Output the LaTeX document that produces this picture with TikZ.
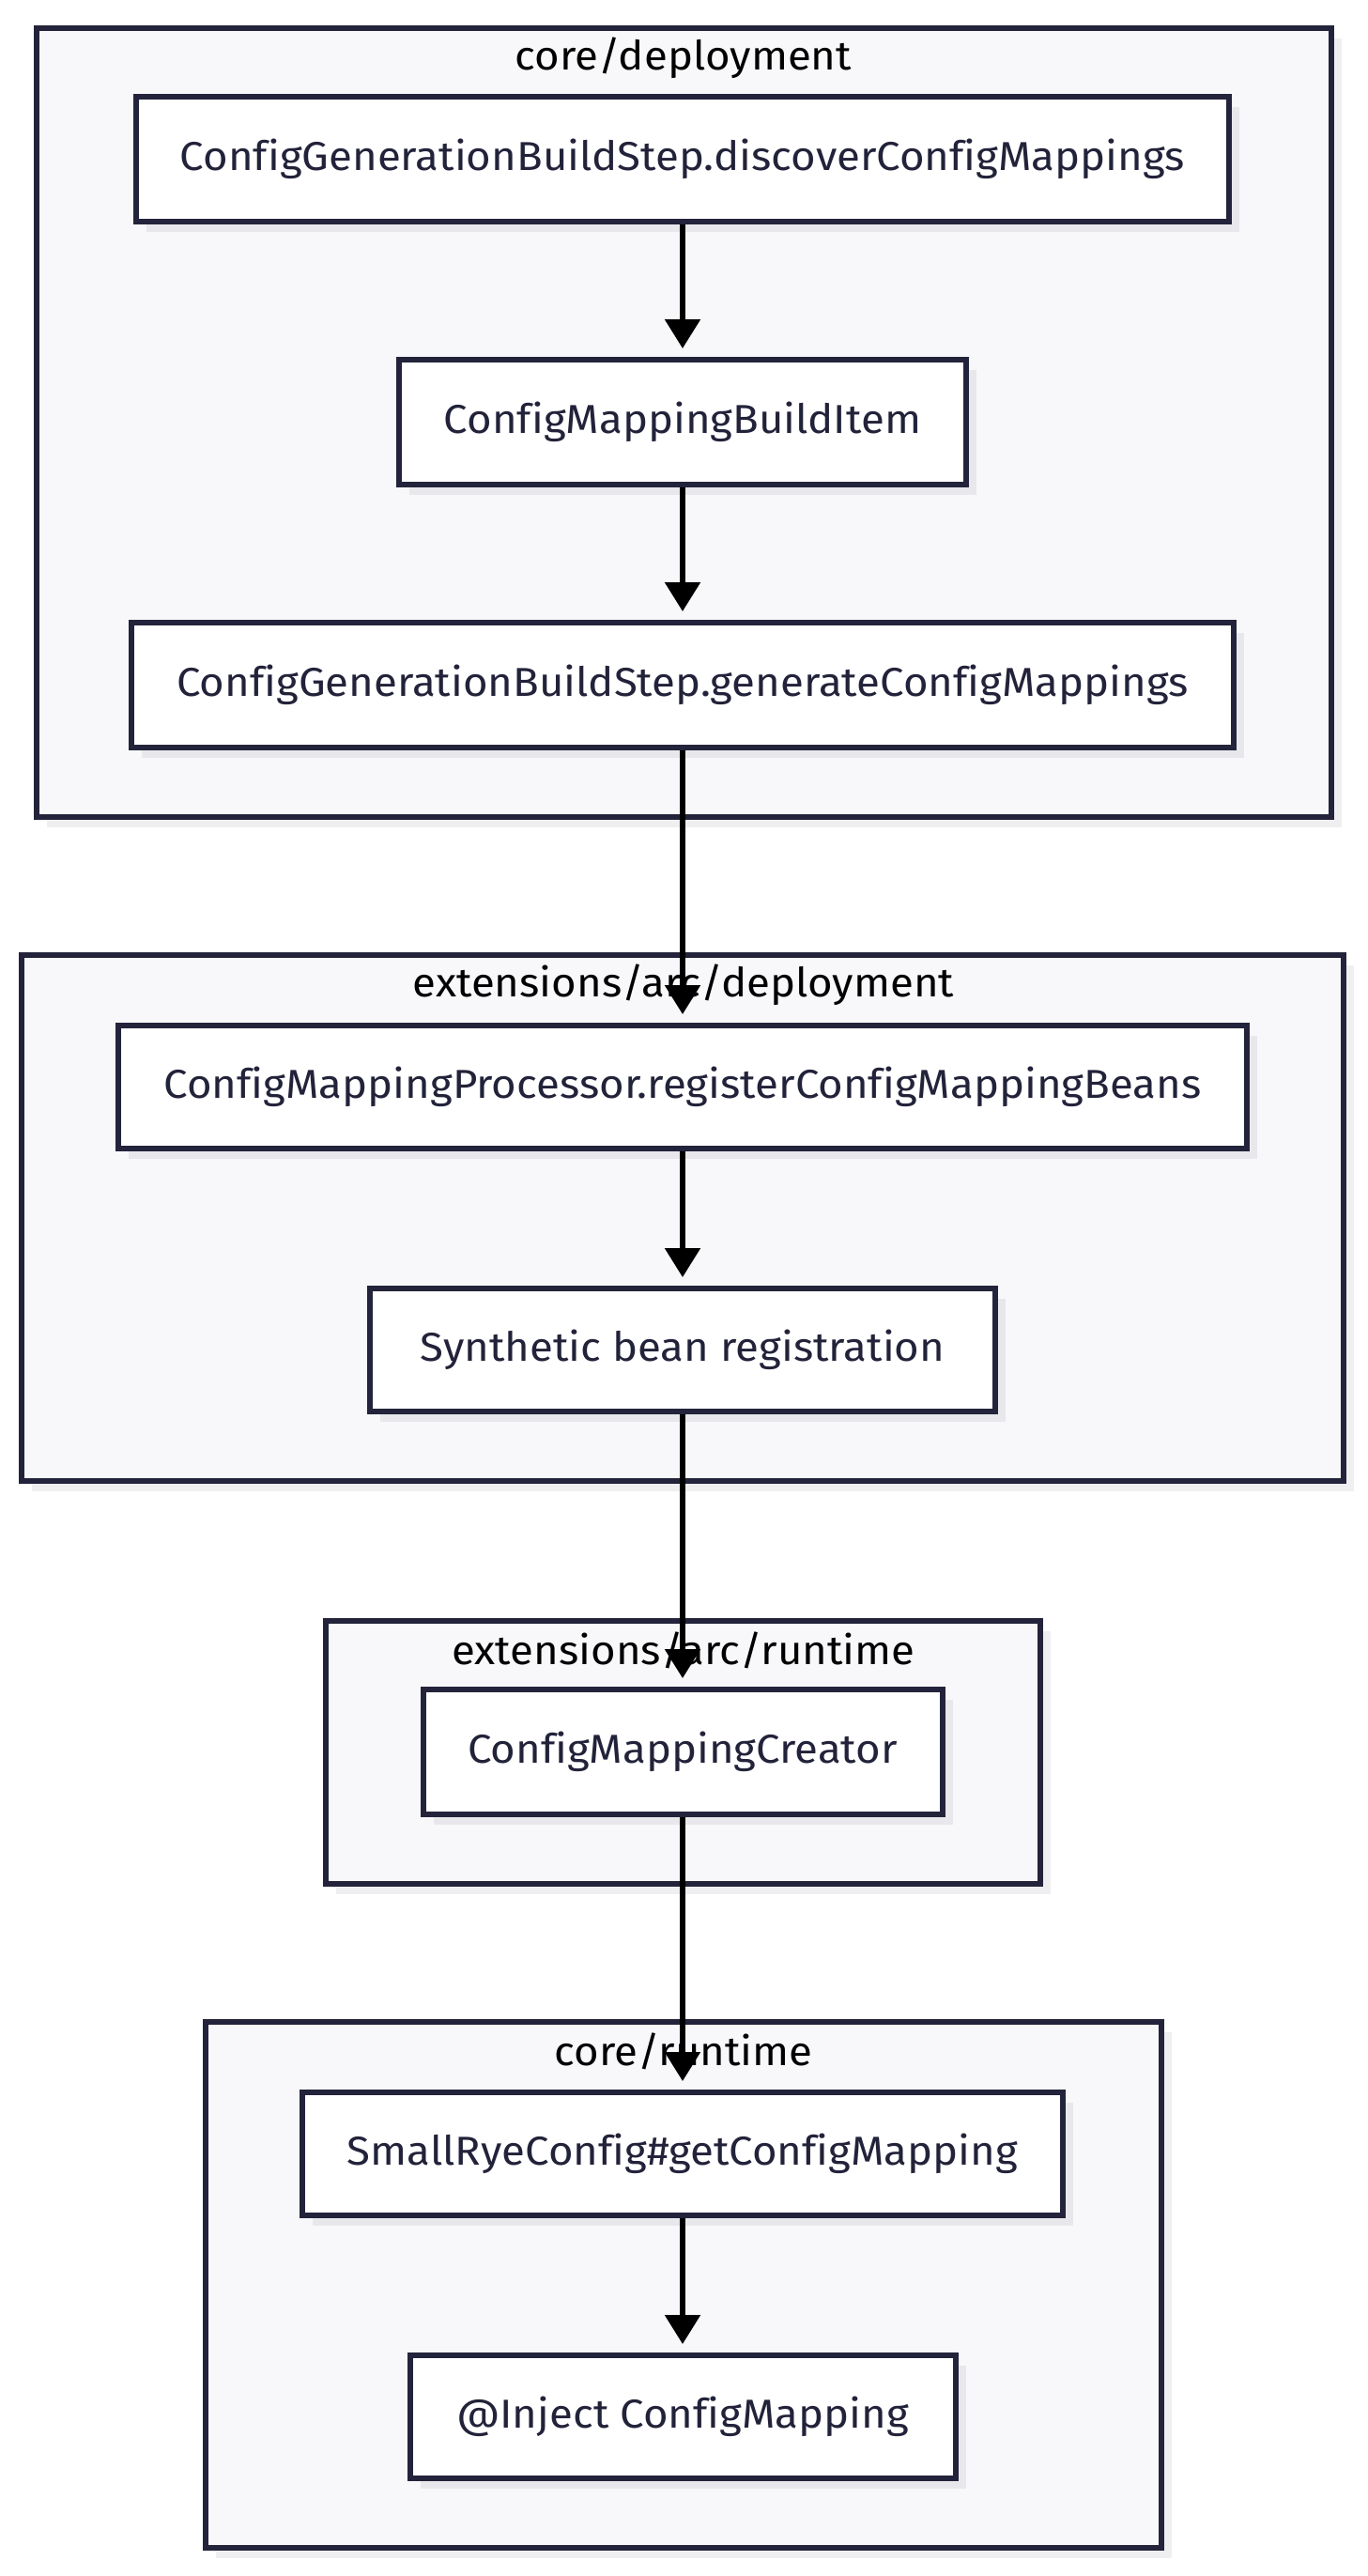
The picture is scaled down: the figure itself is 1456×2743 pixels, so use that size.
\documentclass[tikz,border=0pt]{standalone}
\usepackage{fontspec}
\setmainfont{Fira Sans}[Ligatures=NoCommon, FakeStretch=1.06]
\usetikzlibrary{arrows.meta,shadows}
\definecolor{bordc}{HTML}{23233B}
\definecolor{txtc}{HTML}{22223A}
\definecolor{clfill}{HTML}{F8F8FB}
\definecolor{shadc}{HTML}{E8E8EC}
\definecolor{clshad}{HTML}{EFEFF2}
\tikzset{
  boxnode/.style={draw=bordc, line width=6pt, fill=white, text=txtc,
    font=\fontsize{43}{51}\selectfont, inner sep=0pt,
    general shadow={fill=shadc, shadow xshift=11pt, shadow yshift=-11pt}},
  clusterbox/.style={draw=bordc, line width=6pt, fill=clfill, inner sep=0pt,
    general shadow={fill=clshad, shadow xshift=11pt, shadow yshift=-11pt}},
  cltitle/.style={text=black, font=\fontsize{43}{51}\selectfont, inner sep=0pt},
  flow/.style={draw=black, line width=5.5pt, -{Triangle[length=31pt,width=37pt]}, shorten >=9pt}
}
\begin{document}
\begin{tikzpicture}[x=1pt,y=-1pt]
\useasboundingbox (0,0) rectangle (1456,2743);
% clusters
\node[clusterbox, minimum width=1379pt, minimum height=840pt] (c1) at (728,450) {};
\node[clusterbox, minimum width=1408pt, minimum height=560pt] (c2) at (727,1297) {};
\node[clusterbox, minimum width=761pt, minimum height=280pt] (c3) at (727,1865.5) {};
\node[clusterbox, minimum width=1018pt, minimum height=560pt] (c4) at (728,2432.5) {};
\node[cltitle] (t1) at (728,62) {core/deployment};
\node[cltitle] (t2) at (728,1049) {extensions/arc/deployment};
\node[cltitle] (t3) at (728,1757.5) {extensions/arc/runtime};
\node[cltitle] (t4) at (728,2184.5) {core/runtime};
% nodes
\node[boxnode, minimum width=1164pt, minimum height=133pt] (a) at (727,169.5) {ConfigGenerationBuildStep.discoverConfigMappings};
\node[boxnode, minimum width=604pt, minimum height=133pt] (b) at (727,449.5) {ConfigMappingBuildItem};
\node[boxnode, minimum width=1174pt, minimum height=133pt] (c) at (727,729.5) {ConfigGenerationBuildStep.generateConfigMappings};
\node[boxnode, minimum width=1202pt, minimum height=131pt] (d) at (727,1157.5) {ConfigMappingProcessor.registerConfigMappingBeans};
\node[boxnode, minimum width=666pt, minimum height=131pt] (e) at (727,1437.5) {Synthetic bean registration};
\node[boxnode, minimum width=553pt, minimum height=133pt] (f) at (727,1865.5) {ConfigMappingCreator};
\node[boxnode, minimum width=810pt, minimum height=131pt] (g) at (727,2293.5) {SmallRyeConfig\#getConfigMapping};
\node[boxnode, minimum width=581pt, minimum height=131pt] (h) at (727,2573.5) {@Inject ConfigMapping};
% connectors
\draw[flow] (a.south) -- (b.north);
\draw[flow] (b.south) -- (c.north);
\draw[flow] (c.south) -- (d.north);
\draw[flow] (d.south) -- (e.north);
\draw[flow] (e.south) -- (f.north);
\draw[flow] (f.south) -- (g.north);
\draw[flow] (g.south) -- (h.north);
\end{tikzpicture}
\end{document}
